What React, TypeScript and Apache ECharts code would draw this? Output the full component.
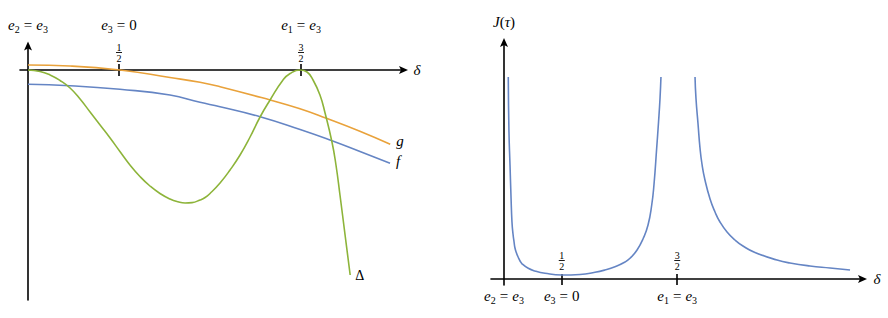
import React, { useEffect, useRef } from "react";
import * as echarts from "echarts";

// ---------- data ----------
// left panel: δ on x, function values on y
const gPoints: [number, number][] = [
  [0, 0.05], [0.231, 0.04], [0.505, 0.0], [0.78, -0.075], [0.945, -0.123],
  [1.055, -0.167], [1.33, -0.3], [1.49, -0.385], [1.64, -0.483], [1.82, -0.61], [1.99, -0.743],
];
const fPoints: [number, number][] = [
  [0, -0.143], [0.231, -0.157], [0.505, -0.193], [0.78, -0.25], [0.945, -0.323],
  [1.055, -0.367], [1.275, -0.467], [1.495, -0.595], [1.659, -0.7], [1.824, -0.815], [1.989, -0.933],
];
const deltaPoints: [number, number][] = [
  [0, 0], [0.066, -0.015], [0.121, -0.05], [0.176, -0.105], [0.231, -0.18],
  [0.286, -0.29], [0.341, -0.42], [0.396, -0.55], [0.451, -0.68], [0.505, -0.815],
  [0.56, -0.95], [0.615, -1.065], [0.67, -1.16], [0.725, -1.235], [0.78, -1.29],
  [0.824, -1.318], [0.863, -1.33], [0.901, -1.326], [0.945, -1.3], [0.973, -1.275],
  [1.0, -1.235], [1.055, -1.13], [1.11, -1.0], [1.165, -0.85], [1.22, -0.67],
  [1.275, -0.47], [1.33, -0.3], [1.401, -0.1], [1.44, -0.035], [1.495, 0],
  [1.533, -0.02], [1.566, -0.1], [1.604, -0.25], [1.632, -0.43], [1.67, -0.72],
  [1.692, -0.95], [1.714, -1.25], [1.742, -1.65], [1.77, -2.05],
];
// right panel: J(τ), two branches
const jLeftPoints: [number, number][] = [
  [0.037, 2.02], [0.043, 1.47], [0.052, 1.14], [0.061, 0.81], [0.069, 0.57],
  [0.078, 0.45], [0.087, 0.37], [0.095, 0.31], [0.108, 0.26], [0.124, 0.215],
  [0.139, 0.18], [0.156, 0.152], [0.21, 0.107], [0.268, 0.08], [0.355, 0.057],
  [0.5, 0.04], [0.658, 0.045], [0.788, 0.067], [0.874, 0.09], [0.961, 0.123],
  [1.048, 0.17], [1.091, 0.207], [1.152, 0.29], [1.206, 0.407], [1.247, 0.54],
  [1.279, 0.74], [1.299, 0.95], [1.322, 1.31], [1.338, 1.57], [1.351, 1.81],
  [1.359, 2.02],
];
const jRightPoints: [number, number][] = [
  [1.654, 2.02], [1.662, 1.81], [1.68, 1.55], [1.697, 1.31], [1.714, 1.15],
  [1.74, 0.99], [1.784, 0.8], [1.827, 0.67], [1.87, 0.57], [1.931, 0.47],
  [2.0, 0.39], [2.069, 0.33], [2.173, 0.265], [2.364, 0.19], [2.476, 0.16],
  [2.649, 0.13], [2.823, 0.11], [2.996, 0.09],
];

// tick positions and labels
const tickValues = [0.5, 1.5];
const fractionParts: [string, string][] = [["1", "2"], ["3", "2"]];
const eLabelValues = [0, 0.5, 1.5];
const eLabelParts: string[][] = [
  ["e", "2", "e", "3"],
  ["e", "3", "0"],
  ["e", "1", "e", "3"],
];
const seriesNames = ["g", "f", "Δ", "J"];
const axisNames = ["δ", "{i|J}{r|(}{i|τ}{r|)}"];

// ---------- styles ----------
const SERIF = "Liberation Serif";
const ORANGE = "#e9a23b";
const BLUE = "#6585c4";
const GREEN = "#8db43a";
const AXIS_W = 1.6;
const SMOOTH = 0.5;
const ARROW = "path://M0,0 L4,9 L0,7 L-4,9 Z";

const eRich = {
  i: { fontFamily: SERIF, fontStyle: "italic", fontSize: 15, color: "#000", verticalAlign: "bottom", padding: [0, 0, 2, 0] },
  n: { fontFamily: SERIF, fontSize: 15, color: "#000", verticalAlign: "bottom", padding: [0, 0, 2, 0] },
  r: { fontFamily: SERIF, fontSize: 15, color: "#000", verticalAlign: "bottom", padding: [0, 4, 2, 4] },
  s: { fontFamily: SERIF, fontSize: 10, color: "#000", verticalAlign: "bottom" },
};
const fracRich = {
  n: { fontFamily: SERIF, fontSize: 10, lineHeight: 8, color: "#000", align: "center" },
  b: { width: 6, height: 0.9, lineHeight: 3, backgroundColor: "#000", align: "center" },
};

function eFormatter(v: number) {
  const idx = eLabelValues.indexOf(v);
  if (idx < 0) return "";
  const p = eLabelParts[idx];
  let s = `{i|${p[0]}}{s|${p[1]}}{r|=}`;
  s += p.length === 4 ? `{i|${p[2]}}{s|${p[3]}}` : `{n|${p[2]}}`;
  return s;
}
function fracFormatter(v: number) {
  const idx = tickValues.indexOf(v);
  if (idx < 0) return "";
  const [a, b] = fractionParts[idx];
  return `{n|${a}}\n{b|}\n{n|${b}}`;
}

const lineStyleAxis = { color: "#000", width: AXIS_W };

export default function App() {
  const ref = useRef<HTMLDivElement>(null);
  useEffect(() => {
    if (!ref.current) return;
    const chart = echarts.init(ref.current, null, { renderer: "svg" });
    const L = { min: -0.044, max: 2.063 };
    const R = { min: -0.1126, max: 3.104 };
    const LY = { min: -2.3, max: 0.24 };
    const RY = { min: -0.06, max: 2.365 };
    const LG = { left: 20, top: 46, width: 383.5, height: 254 };
    const RG = { left: 491, top: 42.5, width: 371.5, height: 242.5 };
    // distance from the grid top to the y = 0 line, from the y scale
    const leftZeroOffset = -(LG.height * LY.max) / (LY.max - LY.min);
    const rightZeroOffset = -(RG.height * RY.max) / (RY.max - RY.min);
    const hidden = {
      axisLine: { show: false, onZero: false },
      axisTick: { show: false },
      axisLabel: { show: false },
      splitLine: { show: false },
    };
    const nameStyle = { fontFamily: SERIF, fontStyle: "italic", fontSize: 15, color: "#000" };
    const lineSeries = (name: string, data: [number, number][], color: string, xi: number, yi: number, endLabel?: any) => ({
      name, type: "line", xAxisIndex: xi, yAxisIndex: yi, data,
      showSymbol: false, smooth: SMOOTH, lineStyle: { color, width: 1.6 }, itemStyle: { color },
      ...(endLabel ? { endLabel: { show: true, formatter: name, fontFamily: SERIF, color: "#000", ...endLabel } } : {}),
    });
    const option: any = {
      animation: false,
      grid: [
        { ...LG, containLabel: false, outerBoundsMode: "none" },
        { ...RG, containLabel: false, outerBoundsMode: "none" },
      ],
      xAxis: [
        // 0: left main axis (line, arrow, downward ticks, δ)
        {
          type: "value", gridIndex: 0, ...L, position: "bottom",
          axisLine: { show: true, onZero: true, symbol: ["none", ARROW], symbolSize: [8, 9], lineStyle: lineStyleAxis },
          axisTick: { show: true, customValues: tickValues, length: 6, lineStyle: lineStyleAxis },
          axisLabel: { show: false }, splitLine: { show: false },
          name: axisNames[0], nameLocation: "end", nameGap: 10, nameTextStyle: nameStyle,
        },
        // 1: left upward ticks + fractions, placed on the y = 0 line
        {
          type: "value", gridIndex: 0, ...L, position: "top", offset: leftZeroOffset,
          axisLine: { show: false, onZero: false },
          axisTick: { show: true, customValues: tickValues, length: 6, lineStyle: lineStyleAxis },
          axisLabel: { show: true, color: "#000", customValues: tickValues, formatter: fracFormatter, rich: fracRich, margin: 8 },
          splitLine: { show: false },
        },
        // 2: left top e-labels
        {
          type: "value", gridIndex: 0, ...L, position: "top",
          axisLine: { show: false, onZero: false },
          axisTick: { show: false },
          axisLabel: { show: true, color: "#000", customValues: eLabelValues, formatter: eFormatter, rich: eRich, margin: 12 },
          splitLine: { show: false },
        },
        // 3: right main axis
        {
          type: "value", gridIndex: 1, ...R, position: "bottom",
          axisLine: { show: true, onZero: true, symbol: ["none", ARROW], symbolSize: [8, 9], lineStyle: lineStyleAxis },
          axisTick: { show: true, customValues: tickValues, length: 6, lineStyle: lineStyleAxis },
          axisLabel: { show: true, color: "#000", customValues: eLabelValues, formatter: eFormatter, rich: eRich, margin: 3 },
          splitLine: { show: false },
          name: axisNames[0], nameLocation: "end", nameGap: 11, nameTextStyle: nameStyle,
        },
        // 4: right upward ticks + fractions, placed on the y = 0 line
        {
          type: "value", gridIndex: 1, ...R, position: "top", offset: rightZeroOffset,
          axisLine: { show: false, onZero: false },
          axisTick: { show: true, customValues: tickValues, length: 5, lineStyle: lineStyleAxis },
          axisLabel: { show: true, color: "#000", customValues: tickValues, formatter: fracFormatter, rich: fracRich, margin: 9 },
          splitLine: { show: false },
        },
      ],
      yAxis: [
        {
          type: "value", gridIndex: 0, ...LY,
          axisLine: { show: true, onZero: true, symbol: ["none", ARROW], symbolSize: [8, 9], lineStyle: lineStyleAxis },
          axisTick: { show: false }, axisLabel: { show: false }, splitLine: { show: false },
        },
        { type: "value", gridIndex: 0, ...LY, ...hidden },
        {
          type: "value", gridIndex: 1, ...RY,
          axisLine: { show: true, onZero: true, symbol: ["none", ARROW], symbolSize: [8, 9], lineStyle: lineStyleAxis },
          axisTick: { show: false }, axisLabel: { show: false }, splitLine: { show: false },
          name: axisNames[1], nameLocation: "end", nameGap: 13,
          nameTextStyle: {
            fontFamily: SERIF, fontSize: 15, color: "#000", fontWeight: "normal",
            rich: {
              i: { fontFamily: SERIF, fontStyle: "italic", fontSize: 15, color: "#000", fontWeight: "normal" },
              r: { fontFamily: SERIF, fontSize: 15, color: "#000", fontWeight: "normal" },
            },
          },
        },
        { type: "value", gridIndex: 1, ...RY, ...hidden },
      ],
      series: [
        lineSeries(seriesNames[0], gPoints, ORANGE, 0, 0, { distance: 6, offset: [0, -3], fontStyle: "italic", fontSize: 15 }),
        lineSeries(seriesNames[1], fPoints, BLUE, 0, 0, { distance: 6, offset: [0, -2], fontStyle: "italic", fontSize: 15 }),
        lineSeries(seriesNames[2], deltaPoints, GREEN, 0, 0, { distance: 5, fontSize: 14 }),
        lineSeries(seriesNames[3], jLeftPoints, BLUE, 3, 2),
        lineSeries(seriesNames[3], jRightPoints, BLUE, 3, 2),
      ],
    };
    chart.setOption(option);
    return () => chart.dispose();
  }, []);
  return (
    <div
      ref={ref}
      style={{ position: "fixed", left: 0, top: 0, width: 888, height: 318, background: "#fff" }}
    />
  );
}
